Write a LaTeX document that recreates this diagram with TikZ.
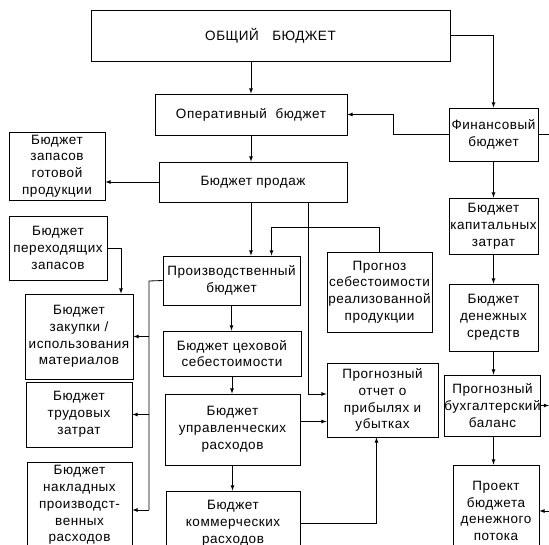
\documentclass[tikz,border=0pt]{standalone}
\usepackage{fontspec}
\setmainfont{Liberation Sans}[LetterSpace=4]
\usetikzlibrary{arrows}

\begin{document}
\begin{tikzpicture}[
            x = 1pt, y = -1pt, % pixel grid, y going down
            > = latex, % arrow head style
            line width = 0.8pt, % line style
            font = \fontsize{13.5}{16.8}\selectfont
        ]

        \tikzstyle{budget}=[
            draw = black,
            rectangle,
            align = center,
            inner sep = 0pt
        ]

        \useasboundingbox (0,0) rectangle (549,545);
        \clip (0,0) rectangle (549,545);
        \coordinate (edge) at (549,0);

        % top row
        \node[budget, minimum width = 359pt, minimum height = 51pt] (obsh) at (270.5,35.5) {ОБЩИЙ\quad БЮДЖЕТ};
        \node[budget, minimum width = 192pt, minimum height = 41pt] (oper) at (251,114.5) {Оперативный\ \ бюджет};
        \node[budget, minimum width = 89pt, minimum height = 53pt] (fin) at (493.5,134.5) {Финансовый\\бюджет};

        % operating budget
        \node[budget, minimum width = 188pt, minimum height = 40pt] (prod) at (253,182) {Бюджет продаж};
        \node[budget, minimum width = 96pt, minimum height = 68pt] (zapas) at (57,166) {Бюджет\\запасов\\готовой\\продукции};
        \node[budget, minimum width = 98pt, minimum height = 64pt] (perekh) at (58,248) {Бюджет\\переходящих\\запасов};
        \node[budget, minimum width = 137pt, minimum height = 49pt] (proizv) at (231.5,280.5) {Производственный\\бюджет};
        \node[budget, minimum width = 105pt, minimum height = 80pt] (progs) at (379.5,292) {Прогноз\\себестоимости\\реализованной\\продукции};
        \node[budget, minimum width = 108pt, minimum height = 85pt] (zakup) at (79,336.5) {Бюджет\\закупки /\\использования\\материалов};
        \node[budget, minimum width = 138pt, minimum height = 45pt] (tsekh) at (232,353.5) {Бюджет цеховой\\себестоимости};
        \node[budget, minimum width = 111pt, minimum height = 74pt] (otchet) at (382.5,400) {Прогнозный\\отчет о\\прибылях и\\убытках};
        \node[budget, minimum width = 106pt, minimum height = 65pt] (trud) at (79,414.5) {Бюджет\\трудовых\\затрат};
        \node[budget, minimum width = 135pt, minimum height = 71pt] (upr) at (232.5,429.5) {Бюджет\\управленческих\\расходов};
        \node[budget, minimum width = 105pt, minimum height = 86pt] (nakl) at (79.5,505) {Бюджет\\накладных\\производст-\\венных\\расходов};
        \node[budget, minimum width = 134pt, minimum height = 65pt] (komm) at (233,523.5) {Бюджет\\коммерческих\\расходов};

        % financial budget
        \node[budget, minimum width = 89pt, minimum height = 56pt] (kap) at (493.5,226) {Бюджет\\капитальных\\затрат};
        \node[budget, minimum width = 89pt, minimum height = 67pt] (deng) at (493.5,317.5) {Бюджет\\денежных\\средств};
        \node[budget, minimum width = 93pt, minimum height = 61pt] (balans) at (492.5,405.5) {Прогнозный\\бухгалтерский\\баланс};
        \node[budget, minimum width = 86pt, minimum height = 92pt] (proekt) at (496,511) {Проект\\бюджета\\денежного\\потока};

        \draw[->] (oper.north |- obsh.south) -- (oper.north);
        \draw[->] (obsh.east) -| (fin.north);
        \draw[->] (fin.west) -- ++(-55,0) |- (oper.east);
        \draw (fin.east) -- (fin.east -| edge);
        \draw[->] (oper.south) -- (oper.south |- prod.north);
        \draw[->] (prod.west) -- (prod.west -| zapas.east);
        \draw[->] ([xshift=-2pt]prod.south) -- ([xshift=-2pt]prod.south |- proizv.north);
        \draw[->] ([xshift=55pt]prod.south) |- ([yshift=6pt]otchet.west);
        \draw[->] (progs.north) -- ++(0,-24) -| ([xshift=40pt]proizv.north);
        \draw[->] (perekh.east) -| ([xshift=42pt]zakup.north);

        % production budget feeds the left column
        \coordinate (bus) at (149,281);
        \draw (proizv.west) -- (bus) -- (bus |- 0,510);
        \draw[->] (bus |- zakup.east) -- (zakup.east);
        \draw[->] (bus |- trud.east) -- (trud.east);
        \draw[->] (bus |- 0,510) -- (bus |- 0,510 -| nakl.east);

        \draw[->] (proizv.south) -- (proizv.south |- tsekh.north);
        \draw[->] (tsekh.south) -- (tsekh.south |- upr.north);
        \draw[->] (upr.south) -- (upr.south |- komm.north);
        \coordinate (u1) at ([yshift=8pt]upr.east);
        \draw[->] (u1) -- (u1 -| otchet.west);
        \draw[->] (komm.east) -| ([xshift=-6pt]otchet.south);

        \draw[->] (fin) -- (kap);
        \draw[->] (kap) -- (deng);
        \draw[->] (deng.south) -- (deng.south |- balans.north);
        \draw[->] (deng.south |- balans.south) -- (deng.south |- proekt.north);
        \draw[->] (balans.east) -- (balans.east -| edge);
        \draw[->] (proekt.east -| edge) -- (proekt.east);
    \end{tikzpicture}
\end{document}
